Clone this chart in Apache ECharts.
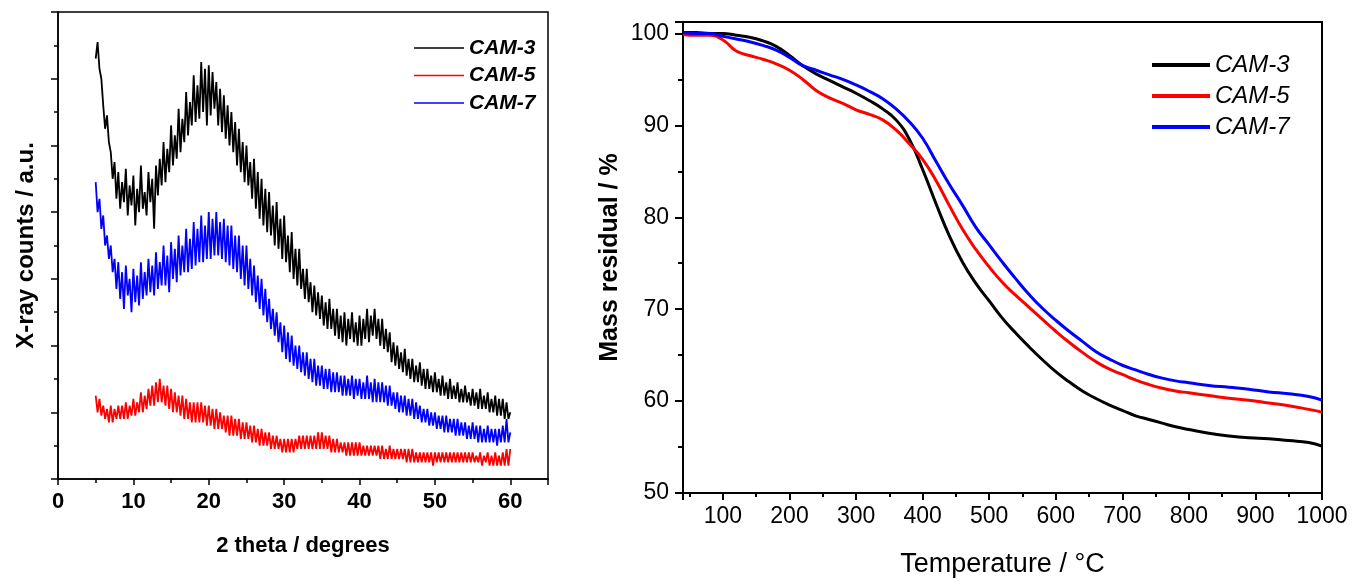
<!DOCTYPE html>
<html>
<head>
<meta charset="utf-8">
<script src="https://cdn.jsdelivr.net/npm/echarts@6/dist/echarts.min.js"></script>
<style>
  html, body { margin: 0; padding: 0; background: #fff; }
  #chart { width: 1363px; height: 585px; }
</style>
</head>
<body>
<div id="chart"></div>
<script>
// XRD patterns, 2 theta from 5 to 60 deg, one value every 0.25 deg
const xrdStart = 5;
const xrdStep = 0.25;
const cam3Xrd = [
  12.6, 13.1, 12.3, 12.0, 11.2, 10.5, 10.9, 10.1, 9.8, 9.0, 9.5, 8.4, 9.2, 8.1, 8.9, 8.3, 9.3, 7.9, 8.8, 8.2,
  9.1, 7.6, 8.7, 8.0, 9.4, 8.1, 8.6, 7.9, 9.2, 8.3, 9.0, 7.5, 9.4, 8.5, 9.6, 8.8, 10.1, 8.9, 9.9, 9.2,
  10.6, 9.4, 10.3, 9.6, 11.1, 9.8, 10.8, 10.1, 11.6, 10.3, 11.3, 10.6, 12.1, 10.7, 11.8, 10.8, 12.5, 11.0, 12.3, 10.6,
  12.4, 10.9, 12.2, 11.1, 11.9, 10.6, 11.7, 10.4, 11.5, 10.2, 11.2, 10.0, 11.0, 9.8, 10.7, 9.4, 10.5, 9.2, 10.1, 8.9,
  10.0, 8.8, 9.5, 8.4, 9.6, 8.1, 9.2, 7.8, 9.0, 7.6, 8.7, 7.4, 8.6, 7.3, 8.2, 7.0, 8.3, 6.9, 7.8, 6.6,
  7.9, 6.5, 7.3, 6.2, 7.4, 6.0, 6.9, 5.8, 6.9, 5.7, 6.3, 5.4, 6.3, 5.3, 5.9, 5.0, 5.8, 4.9, 5.6, 4.8,
  5.5, 4.6, 5.3, 4.5, 5.4, 4.5, 5.1, 4.3, 5.1, 4.2, 4.9, 4.1, 5.0, 4.0, 4.8, 4.2, 5.0, 4.1, 4.7, 4.0,
  4.9, 4.0, 4.8, 4.2, 5.1, 4.1, 4.9, 4.3, 5.1, 4.2, 4.8, 4.0, 4.8, 3.9, 4.5, 3.8, 4.4, 3.5, 4.1, 3.4,
  4.0, 3.3, 3.8, 3.2, 3.9, 3.1, 3.6, 3.0, 3.6, 2.9, 3.4, 2.9, 3.5, 2.8, 3.3, 2.7, 3.3, 2.7, 3.1, 2.6,
  3.2, 2.6, 3.0, 2.5, 3.1, 2.5, 2.9, 2.4, 3.0, 2.4, 2.8, 2.4, 2.9, 2.3, 2.7, 2.3, 2.8, 2.3, 2.6, 2.2,
  2.7, 2.2, 2.6, 2.1, 2.7, 2.1, 2.5, 2.1, 2.6, 2.0, 2.4, 2.0, 2.5, 1.9, 2.4, 1.9, 2.4, 1.8, 2.3, 1.8,
  2.0
];
const cam5Xrd = [
  2.5, 2.0, 2.4, 1.9, 2.2, 1.8, 2.1, 1.7, 2.2, 1.7, 2.1, 1.8, 2.2, 1.8, 2.2, 1.8, 2.3, 1.8, 2.2, 1.9,
  2.4, 1.9, 2.3, 2.0, 2.6, 2.0, 2.5, 2.1, 2.7, 2.2, 2.8, 2.2, 2.9, 2.3, 3.0, 2.3, 2.8, 2.2, 2.8, 2.1,
  2.7, 2.0, 2.6, 2.0, 2.5, 1.9, 2.5, 1.8, 2.4, 1.8, 2.3, 1.7, 2.3, 1.7, 2.3, 1.7, 2.3, 1.7, 2.2, 1.6,
  2.2, 1.6, 2.1, 1.5, 2.1, 1.5, 2.0, 1.5, 1.9, 1.4, 1.9, 1.3, 1.9, 1.3, 1.8, 1.3, 1.8, 1.2, 1.7, 1.2,
  1.7, 1.2, 1.6, 1.1, 1.6, 1.1, 1.5, 1.0, 1.5, 1.0, 1.4, 1.0, 1.4, 0.9, 1.3, 0.9, 1.3, 0.9, 1.2, 0.8,
  1.2, 0.8, 1.2, 0.8, 1.2, 0.8, 1.2, 0.9, 1.3, 0.9, 1.3, 0.9, 1.3, 0.9, 1.3, 0.9, 1.3, 0.9, 1.4, 0.9,
  1.4, 0.9, 1.3, 0.9, 1.3, 0.8, 1.2, 0.8, 1.2, 0.8, 1.1, 0.8, 1.1, 0.7, 1.1, 0.7, 1.1, 0.7, 1.1, 0.7,
  1.1, 0.7, 1.0, 0.7, 1.0, 0.7, 1.0, 0.7, 1.0, 0.7, 1.0, 0.6, 1.0, 0.6, 0.9, 0.6, 1.0, 0.6, 0.9, 0.6,
  0.9, 0.6, 0.9, 0.6, 0.9, 0.5, 0.9, 0.5, 0.9, 0.5, 0.8, 0.5, 0.8, 0.5, 0.8, 0.5, 0.8, 0.5, 0.8, 0.4,
  0.8, 0.5, 0.8, 0.5, 0.8, 0.5, 0.8, 0.5, 0.8, 0.5, 0.8, 0.5, 0.8, 0.5, 0.8, 0.5, 0.8, 0.5, 0.8, 0.5,
  0.8, 0.5, 0.7, 0.5, 0.8, 0.4, 0.7, 0.5, 0.8, 0.4, 0.7, 0.4, 0.8, 0.4, 0.7, 0.4, 0.8, 0.4, 0.9, 0.4,
  0.9
];
const cam7Xrd = [
  8.9, 8.0, 8.4, 7.5, 7.9, 7.0, 7.3, 6.6, 7.0, 6.2, 6.6, 5.7, 6.5, 5.4, 6.2, 5.1, 6.4, 5.5, 6.0, 5.0,
  6.3, 5.3, 6.1, 5.2, 6.5, 5.4, 6.2, 5.5, 6.6, 5.6, 6.4, 5.5, 6.8, 5.7, 6.5, 5.8, 7.0, 5.8, 6.7, 5.6,
  7.1, 6.0, 6.9, 5.9, 7.3, 6.1, 7.0, 6.2, 7.5, 6.2, 7.2, 6.3, 7.7, 6.4, 7.5, 6.5, 7.9, 6.5, 7.6, 6.6,
  8.0, 6.6, 7.8, 6.7, 8.0, 6.7, 7.7, 6.6, 7.8, 6.5, 7.6, 6.4, 7.6, 6.3, 7.3, 6.2, 7.3, 6.0, 7.0, 5.8,
  7.0, 5.7, 6.6, 5.5, 6.4, 5.3, 6.1, 5.1, 6.0, 4.9, 5.7, 4.7, 5.4, 4.5, 5.1, 4.3, 5.0, 4.1, 4.7, 3.8,
  4.6, 3.6, 4.4, 3.5, 4.3, 3.4, 4.0, 3.3, 4.0, 3.2, 3.8, 3.1, 3.8, 3.0, 3.6, 2.9, 3.6, 2.8, 3.4, 2.8,
  3.4, 2.7, 3.3, 2.7, 3.3, 2.6, 3.2, 2.6, 3.2, 2.6, 3.1, 2.5, 3.1, 2.5, 3.0, 2.5, 3.1, 2.4, 3.0, 2.5,
  3.0, 2.4, 2.9, 2.4, 3.1, 2.4, 2.9, 2.3, 3.0, 2.3, 2.9, 2.3, 2.9, 2.3, 2.8, 2.2, 2.8, 2.2, 2.6, 2.1,
  2.6, 2.0, 2.5, 2.0, 2.5, 1.9, 2.4, 1.9, 2.4, 1.8, 2.3, 1.8, 2.2, 1.7, 2.1, 1.7, 2.1, 1.6, 2.0, 1.6,
  2.0, 1.5, 1.9, 1.5, 1.9, 1.4, 1.9, 1.4, 1.8, 1.4, 1.8, 1.3, 1.8, 1.3, 1.7, 1.3, 1.7, 1.2, 1.6, 1.2,
  1.7, 1.2, 1.6, 1.1, 1.6, 1.1, 1.5, 1.1, 1.6, 1.1, 1.5, 1.1, 1.5, 1.0, 1.5, 1.1, 1.6, 1.1, 1.8, 1.1,
  1.4
];

// TGA curves, mass residual (%) vs temperature (C)
const tgaTemp = [40, 60, 80, 100, 120, 140, 160, 180, 200, 220, 240, 260, 280, 300, 320, 340, 360, 380, 400, 420,
  440, 460, 480, 500, 520, 540, 560, 580, 600, 620, 640, 660, 680, 700, 720, 740, 760, 780, 800, 830,
  860, 890, 920, 950, 980, 1000];
const cam3Tga = [100.1, 100.1, 100.0, 100.0, 99.8, 99.6, 99.2, 98.6, 97.6, 96.5, 95.6, 94.9, 94.2, 93.5, 92.7, 91.8, 90.6, 88.5, 85.2, 81.5,
  78.0, 75.1, 72.8, 70.9, 69.0, 67.4, 65.9, 64.5, 63.2, 62.1, 61.1, 60.3, 59.6, 59.0, 58.4, 58.0, 57.6, 57.2, 56.9, 56.5,
  56.2, 56.0, 55.9, 55.7, 55.5, 55.1];
const cam5Tga = [99.9, 99.8, 99.8, 99.3, 98.1, 97.6, 97.2, 96.7, 96.0, 95.0, 93.8, 93.0, 92.4, 91.7, 91.2, 90.6, 89.5, 88.0, 86.3, 84.0,
  81.3, 78.7, 76.5, 74.6, 72.9, 71.5, 70.2, 68.9, 67.6, 66.4, 65.3, 64.3, 63.5, 62.9, 62.3, 61.8, 61.4, 61.1, 60.9, 60.6,
  60.3, 60.1, 59.8, 59.5, 59.1, 58.8];
const cam7Tga = [100.1, 100.0, 100.0, 99.7, 99.4, 99.1, 98.7, 98.2, 97.4, 96.5, 96.0, 95.5, 95.0, 94.4, 93.7, 92.9, 91.8, 90.4, 88.6, 86.1,
  83.6, 81.3, 78.9, 77.0, 75.1, 73.3, 71.6, 70.1, 68.8, 67.6, 66.5, 65.4, 64.6, 63.9, 63.4, 62.9, 62.5, 62.2, 62.0, 61.7,
  61.5, 61.3, 61.0, 60.8, 60.5, 60.1];

const sampleNames = ['CAM-3', 'CAM-5', 'CAM-7'];
const colors = ['#000000', '#ff0000', '#0000ff'];

function xrdPairs(arr) {
  return arr.map(function (v, i) { return [xrdStart + i * xrdStep, v]; });
}
function tgaPairs(arr) {
  return arr.map(function (v, i) { return [tgaTemp[i], v]; });
}

const FONT = "'Liberation Sans', Arial, sans-serif";
// second panel uses the same names plus a space so the two legends stay apart
const tgaNames = sampleNames.map(function (n) { return n + ' '; });

const myChart = echarts.init(document.getElementById('chart'));
var option = {
  animation: false,
  backgroundColor: '#fff',
  legend: [
    {
      data: sampleNames,
      orient: 'vertical',
      left: 409,
      top: 32,
      icon: 'rect',
      itemWidth: 50,
      itemHeight: 1.5,
      itemGap: 5.5,
      textStyle: { fontFamily: FONT, fontSize: 21, fontWeight: 'bold', fontStyle: 'italic', color: '#000', lineHeight: 22 }
    },
    {
      data: tgaNames,
      orient: 'vertical',
      left: 1147,
      top: 48,
      icon: 'rect',
      itemWidth: 58,
      itemHeight: 4,
      itemGap: 7,
      textStyle: { fontFamily: FONT, fontSize: 24, fontStyle: 'italic', color: '#000', lineHeight: 24 }
    }
  ],
  grid: [
    { left: 58, top: 12, width: 490, height: 467, show: true, borderColor: '#000', borderWidth: 1.5 },
    { left: 683, top: 22, width: 639, height: 471, show: true, borderColor: '#000', borderWidth: 2 }
  ],
  xAxis: [
    {
      gridIndex: 0, type: 'value', min: 0, max: 65, interval: 10,
      axisLine: { lineStyle: { color: '#000', width: 1.5 } },
      axisTick: { inside: false, length: 6, lineStyle: { color: '#000', width: 1.5 } },
      minorTick: { show: true, splitNumber: 2, length: 4, lineStyle: { color: '#000', width: 1.5 } },
      splitLine: { show: false },
      axisLabel: { showMaxLabel: false, margin: 12, color: '#000', fontFamily: FONT, fontSize: 22, fontWeight: 'bold' },
      name: '2 theta / degrees', nameLocation: 'middle', nameGap: 56,
      nameTextStyle: { color: '#000', fontFamily: FONT, fontSize: 22, fontWeight: 'bold' }
    },
    {
      gridIndex: 1, type: 'value', min: 40, max: 1000, splitNumber: 10,
      axisLine: { lineStyle: { color: '#000', width: 2 } },
      axisTick: { inside: false, length: 7, lineStyle: { color: '#000', width: 2 } },
      minorTick: { show: true, splitNumber: 2, length: 4, lineStyle: { color: '#000', width: 2 } },
      splitLine: { show: false },
      axisLabel: { showMinLabel: false, margin: 12, color: '#000', fontFamily: FONT, fontSize: 23,
        formatter: function (v) { return String(v); } },
      name: 'Temperature / °C', nameLocation: 'middle', nameGap: 58,
      nameTextStyle: { color: '#000', fontFamily: FONT, fontSize: 27 }
    }
  ],
  yAxis: [
    {
      gridIndex: 0, type: 'value', min: 0, max: 14, interval: 2,
      axisLine: { lineStyle: { color: '#000', width: 1.5 } },
      axisTick: { inside: false, length: 7, lineStyle: { color: '#000', width: 1.5 } },
      minorTick: { show: true, splitNumber: 2, length: 4, lineStyle: { color: '#000', width: 1.5 } },
      splitLine: { show: false },
      axisLabel: { show: false },
      name: 'X-ray counts / a.u.', nameLocation: 'middle', nameGap: 20,
      nameTextStyle: { color: '#000', fontFamily: FONT, fontSize: 24, fontWeight: 'bold' }
    },
    {
      gridIndex: 1, type: 'value', min: 50, max: 101.25, interval: 10,
      axisLine: { lineStyle: { color: '#000', width: 2 } },
      axisTick: { inside: false, length: 8, lineStyle: { color: '#000', width: 2 } },
      minorTick: { show: true, splitNumber: 2, length: 5, lineStyle: { color: '#000', width: 2 } },
      splitLine: { show: false },
      axisLabel: { showMaxLabel: false, margin: 14, color: '#000', fontFamily: FONT, fontSize: 23 },
      name: 'Mass residual / %', nameLocation: 'middle', nameGap: 60,
      nameTextStyle: { color: '#000', fontFamily: FONT, fontSize: 25, fontWeight: 'bold' }
    }
  ],
  series: [
    { name: sampleNames[0], type: 'line', xAxisIndex: 0, yAxisIndex: 0, symbol: 'none', data: xrdPairs(cam3Xrd),
      lineStyle: { color: colors[0], width: 1.8 }, itemStyle: { color: colors[0] } },
    { name: sampleNames[1], type: 'line', xAxisIndex: 0, yAxisIndex: 0, symbol: 'none', data: xrdPairs(cam5Xrd),
      lineStyle: { color: colors[1], width: 1.8 }, itemStyle: { color: colors[1] } },
    { name: sampleNames[2], type: 'line', xAxisIndex: 0, yAxisIndex: 0, symbol: 'none', data: xrdPairs(cam7Xrd),
      lineStyle: { color: colors[2], width: 1.8 }, itemStyle: { color: colors[2] } },
    { name: tgaNames[0], type: 'line', xAxisIndex: 1, yAxisIndex: 1, symbol: 'none', smooth: 0.5,
      data: tgaPairs(cam3Tga), lineStyle: { color: colors[0], width: 3 }, itemStyle: { color: colors[0] } },
    { name: tgaNames[1], type: 'line', xAxisIndex: 1, yAxisIndex: 1, symbol: 'none', smooth: 0.5,
      data: tgaPairs(cam5Tga), lineStyle: { color: colors[1], width: 3 }, itemStyle: { color: colors[1] } },
    { name: tgaNames[2], type: 'line', xAxisIndex: 1, yAxisIndex: 1, symbol: 'none', smooth: 0.5,
      data: tgaPairs(cam7Tga), lineStyle: { color: colors[2], width: 3 }, itemStyle: { color: colors[2] } }
  ]
};
myChart.setOption(option);
</script>
</body>
</html>
